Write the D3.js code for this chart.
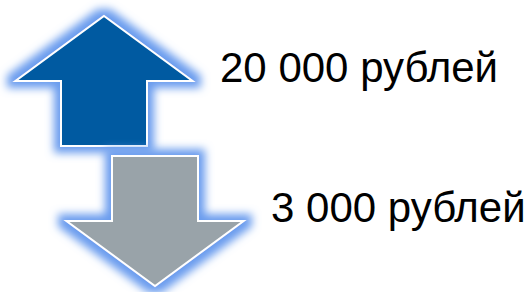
<!DOCTYPE html>
<html>
<head>
<meta charset="utf-8">
<script src="https://cdn.jsdelivr.net/npm/d3@7"></script>
<style>
  body { margin: 0; background: #fff; }
</style>
</head>
<body>
<div id="chart"></div>
<script>
// values shown on the slide
var labels = ["20 000 рублей", "3 000 рублей"];
var values = [20000, 3000];
var directions = ["up", "down"];
var fills = ["#015aa1", "#99a3a9"];

var width = 531, height = 292;

var svg = d3.select("#chart").append("svg")
  .attr("width", width)
  .attr("height", height);

var defs = svg.append("defs");
var glow = defs.append("filter")
  .attr("id", "glow")
  .attr("x", "-30%").attr("y", "-30%")
  .attr("width", "160%").attr("height", "160%");
glow.append("feMorphology")
  .attr("in", "SourceAlpha").attr("operator", "dilate").attr("radius", 6)
  .attr("result", "fat");
glow.append("feGaussianBlur")
  .attr("in", "fat").attr("stdDeviation", 4).attr("result", "blur");
glow.append("feFlood").attr("flood-color", "#6a9cee");
glow.append("feComposite").attr("in2", "blur").attr("operator", "in").attr("result", "g");
var merge = glow.append("feMerge");
merge.append("feMergeNode").attr("in", "g");
merge.append("feMergeNode").attr("in", "SourceGraphic");

var idx = d3.range(labels.length);
// arrow centre and top edge
var x = d3.scalePoint().domain(idx).range([104, 155]);
var y = d3.scalePoint().domain(idx).range([16, 156]);

var headW = 177, shaftW = 86, headH = 65, totalH = 130;

function arrowPath(dir) {
  var p;
  if (dir == "up") {
    p = [[0, 0], [headW / 2, headH], [shaftW / 2, headH], [shaftW / 2, totalH],
         [-shaftW / 2, totalH], [-shaftW / 2, headH], [-headW / 2, headH]];
  } else {
    p = [[-shaftW / 2, 0], [shaftW / 2, 0], [shaftW / 2, totalH - headH],
         [headW / 2, totalH - headH], [0, totalH], [-headW / 2, totalH - headH],
         [-shaftW / 2, totalH - headH]];
  }
  return d3.line()(p) + "Z";
}

var g = svg.selectAll("g.arrow")
  .data(idx)
  .enter().append("g")
  .attr("class", "arrow")
  .attr("transform", function(i) { return "translate(" + x(i) + "," + y(i) + ")"; });

g.append("path")
  .attr("d", function(i) { return arrowPath(directions[i]); })
  .attr("fill", function(i) { return fills[i]; })
  .attr("stroke", "#fff")
  .attr("stroke-width", 2)
  .attr("stroke-linejoin", "miter")
  .attr("filter", "url(#glow)");

g.append("text")
  .text(function(i) { return labels[i]; })
  .attr("x", 116)
  .attr("y", 66)
  .attr("font-family", "Liberation Sans, Arial, sans-serif")
  .attr("font-size", "42px")
  .attr("fill", "#000");
</script>
</body>
</html>
